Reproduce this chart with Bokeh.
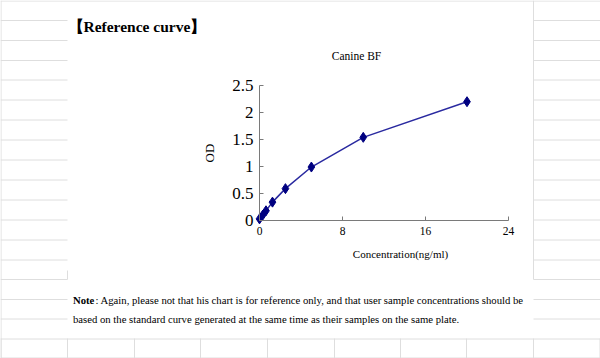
from bokeh.plotting import figure
from bokeh.models import Range1d, FixedTicker, LinearAxis
from bokeh.core.properties import value
from bokeh.embed import file_html
from bokeh.resources import INLINE

# ---- data ----
conc = [0, 0.3125, 0.625, 1.25, 2.5, 5, 10, 20]
od = [0.03, 0.10, 0.18, 0.34, 0.59, 0.99, 1.54, 2.20]
x_ticks = [0, 8, 16, 24]
y_ticks = [0, 0.5, 1, 1.5, 2, 2.5]
chart_title = "Canine BF"
x_label = "Concentration(ng/ml)"
y_label = "OD"
header = "【Reference curve】"
note_bold = "Note"
note_line1 = ": Again, please not that his chart is for reference only, and that user sample concentrations should be"
note_line2 = "based on the standard curve generated at the same time as their samples on the same plate."

SERIF = "Liberation Serif"
GRID = "#dedede"
AXIS = "#7a7a7a"
NAVY = "#000080"

W, H = 600, 358
# page canvas in pixel coordinates (y downwards)
p = figure(width=W, height=H, x_range=Range1d(0, W), y_range=Range1d(H, 0),
           output_backend="svg", toolbar_location=None,
           x_axis_location=None, y_axis_location=None, min_border=0)
p.grid.visible = False
p.outline_line_color = None
p.background_fill_color = "white"
p.border_fill_color = "white"

# chart plot area on the page
PX0, PX1, PY0, PY1 = 259, 508, 220, 85
XMAX, YMAX = x_ticks[-1], y_ticks[-1]
kx = XMAX / (PX1 - PX0)
ky = YMAX / (PY0 - PY1)
p.extra_x_ranges = {"conc": Range1d(-PX0 * kx, (W - PX0) * kx)}
p.extra_y_ranges = {"od": Range1d(-(H - PY0) * ky, PY0 * ky)}

# ---- spreadsheet background ----
rows_y = [20, 40, 60, 79.5, 99.5, 119.5, 139.5, 159.5, 179.5, 199.5, 219.5, 239.5, 259.5, 279, 299, 318.5]
bottom_cols = [0.5, 67, 134, 200, 267, 334, 400, 466, 533, 599.5]
hx0, hx1, hy = [], [], []
for y in rows_y:
    hx0 += [0, 533]
    hx1 += [67, 600]
    hy += [y, y]
hx0 += [0, 0, 0]
hx1 += [600, 600, 600]
hy += [0.5, 338.5, 357.5]
p.segment(x0=hx0, x1=hx1, y0=hy, y1=hy, line_color=GRID, line_width=1)
vx = [0.5, 533, 67] + bottom_cols
vy0 = [0, 0, 270] + [338] * len(bottom_cols)
vy1 = [358, 279, 279] + [358] * len(bottom_cols)
p.segment(x0=vx, x1=vx, y0=vy0, y1=vy1, line_color=GRID, line_width=1)

# ---- curve ----
p.line(conc, od, line_color="#2a2aa0", line_width=1.5, x_range_name="conc", y_range_name="od")
p.scatter(conc, od, marker="diamond", size=10, fill_color=NAVY, line_color=NAVY,
          x_range_name="conc", y_range_name="od")

# ---- axes ----
xa = LinearAxis(x_range_name="conc", y_range_name="od", fixed_location=0, bounds=(0, XMAX),
                ticker=FixedTicker(ticks=x_ticks))
ya = LinearAxis(x_range_name="conc", y_range_name="od", fixed_location=0, bounds=(0, YMAX),
                ticker=FixedTicker(ticks=y_ticks))
for ax, ticks in ((xa, x_ticks), (ya, y_ticks)):
    ax.major_label_overrides = {float(t): f"{t:g}" for t in ticks}
    ax.axis_line_color = AXIS
    ax.major_tick_line_color = AXIS
    ax.major_tick_in = 4
    ax.major_tick_out = 0
    ax.minor_tick_line_color = None
    ax.major_label_text_font = SERIF
    ax.major_label_text_color = "black"
xa.major_label_text_font_size = "11.5px"
xa.major_label_standoff = 6
ya.major_label_text_font_size = "17px"
ya.major_label_standoff = 6
ya.axis_label = y_label
ya.axis_label_text_font = SERIF
ya.axis_label_text_font_size = "13px"
ya.axis_label_text_font_style = "normal"
ya.axis_label_text_color = "black"
ya.axis_label_standoff = 12
p.add_layout(xa, "below")
p.add_layout(ya, "left")

# ---- texts ----
def txt(X, Y, text, size, align="left", bold=False):
    p.text(x=[X], y=[Y], text=[text], text_font=value(SERIF), text_font_size=value(size),
           text_align=align, text_baseline="middle",
           text_font_style="bold" if bold else "normal", text_color="black")

txt(67, 26, header, "15.5px", bold=True)
txt(356, 55, chart_title, "11.5px", align="center")
txt(400, 253, x_label, "11px", align="center")
txt(72.5, 299, note_bold, "10.7px", bold=True)
txt(95, 299, note_line1, "10.7px")
txt(72.5, 318.5, note_line2, "10.7px")

open("out.html", "w").write(file_html(p, INLINE))
